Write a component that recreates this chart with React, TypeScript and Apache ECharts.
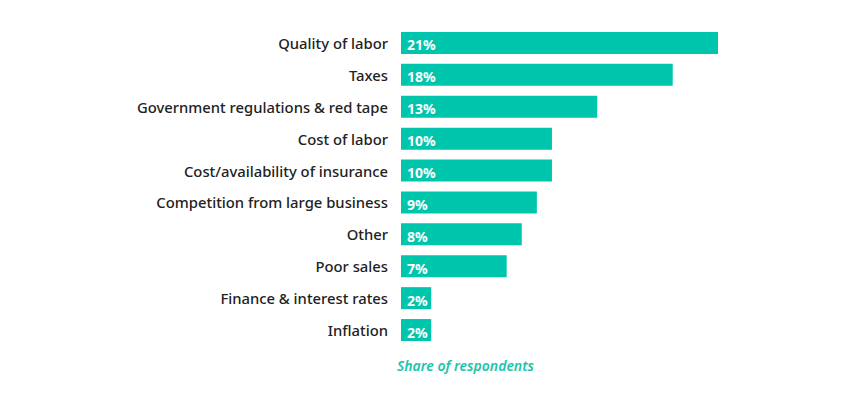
import React, { useEffect, useRef } from "react";
import * as echarts from "echarts";

const categories = [
  "Quality of labor",
  "Taxes",
  "Government regulations & red tape",
  "Cost of labor",
  "Cost/availability of insurance",
  "Competition from large business",
  "Other",
  "Poor sales",
  "Finance & interest rates",
  "Inflation",
];
const values = [21, 18, 13, 10, 10, 9, 8, 7, 2, 2];
const axisTitle = "Share of respondents";

export default function App() {
  const ref = useRef<HTMLDivElement>(null);
  useEffect(() => {
    if (!ref.current) return;
    const chart = echarts.init(ref.current, null, { renderer: "svg" });
    chart.setOption({
      animation: false,
      grid: { left: 393, top: 19, width: 317, height: 319, containLabel: false },
      xAxis: {
        type: "value",
        min: 0,
        max: 21,
        show: true,
        axisLine: { show: false },
        axisTick: { show: false },
        axisLabel: { show: false },
        splitLine: { show: false },
        name: axisTitle,
        nameLocation: "start",
        nameGap: 0,
        nameTextStyle: {
          color: "#1cc4aa",
          fontFamily: "Noto Sans",
          fontStyle: "italic",
          fontWeight: 600,
          fontSize: 14,
          align: "left",
          verticalAlign: "top",
          padding: [12, 0, 0, -4],
        },
      },
      yAxis: {
        type: "category",
        data: categories,
        inverse: true,
        axisLine: { show: false },
        axisTick: { show: false },
        axisLabel: {
          color: "#222",
          fontFamily: "Noto Sans",
          fontWeight: 500,
          fontSize: 14.8,
          margin: 13,
          padding: [2, 0, 0, 0],
        },
      },
      series: [
        {
          type: "bar",
          data: values,
          barWidth: 22,
          itemStyle: { color: "#00c5ad" },
          label: {
            show: true,
            position: "insideLeft",
            offset: [1, 2],
            formatter: "{c}%",
            color: "#fff",
            fontFamily: "Noto Sans",
            fontWeight: 700,
            fontSize: 14,
          },
        },
      ],
    });
    return () => chart.dispose();
  }, []);
  return <div ref={ref} style={{ width: 834, height: 381 }} />;
}
